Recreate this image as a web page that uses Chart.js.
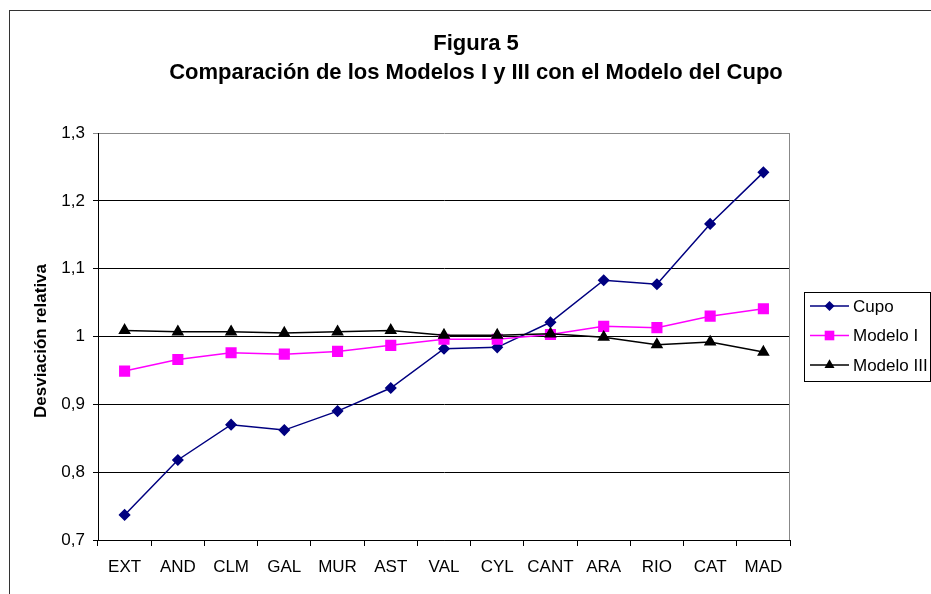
<!DOCTYPE html>
<html lang="es">
<head>
<meta charset="UTF-8">
<title>Figura 5</title>
<script src="https://cdn.jsdelivr.net/npm/chart.js"></script>
<style>
  html, body { margin: 0; padding: 0; background: #fff; }
  #wrap { width: 931px; height: 594px; }
</style>
</head>
<body>
<div id="wrap"><canvas id="fig5" width="931" height="594"></canvas></div>
<script>
// datos
const regiones = ["EXT", "AND", "CLM", "GAL", "MUR", "AST", "VAL", "CYL", "CANT", "ARA", "RIO", "CAT", "MAD"];
const cupo      = [0.737, 0.818, 0.870, 0.862, 0.890, 0.924, 0.982, 0.984, 1.021, 1.083, 1.077, 1.166, 1.242];
const modeloI   = [0.949, 0.966, 0.976, 0.974, 0.978, 0.987, 0.996, 0.996, 1.003, 1.015, 1.013, 1.030, 1.041];
const modeloIII = [1.009, 1.007, 1.007, 1.005, 1.007, 1.009, 1.002, 1.002, 1.004, 0.999, 0.988, 0.992, 0.977];
const nombres   = ["Cupo", "Modelo I", "Modelo III"];

const FONT = "'Liberation Sans', Arial, sans-serif";

function fmt(v) {
    return String(Math.round(v * 10) / 10).replace('.', ',');
}

function marker(ctx, style, x, y, r, color) {
    ctx.save();
    ctx.fillStyle = color;
    ctx.beginPath();
    if (style === 'rectRot') {
        ctx.moveTo(x, y - r); ctx.lineTo(x + r, y); ctx.lineTo(x, y + r); ctx.lineTo(x - r, y);
    } else if (style === 'rect') {
        const s = r * Math.SQRT1_2;
        ctx.rect(x - s, y - s, 2 * s, 2 * s);
    } else {
        ctx.moveTo(x, y - r);
        ctx.lineTo(x + r * 0.866, y + r / 2);
        ctx.lineTo(x - r * 0.866, y + r / 2);
    }
    ctx.closePath();
    ctx.fill();
    ctx.restore();
}

const decor = {
    id: 'decor',
    afterDraw(chart) {
        const ctx = chart.ctx;
        const a = chart.chartArea;
        ctx.save();
        // marco exterior
        ctx.strokeStyle = '#333';
        ctx.lineWidth = 1;
        ctx.strokeRect(9.5, 10.5, 940, 600);
        // borde del area de trazado (derecha)
        ctx.strokeStyle = '#888';
        ctx.beginPath();
        ctx.moveTo(Math.round(a.right) - 0.5, a.top);
        ctx.lineTo(Math.round(a.right) - 0.5, a.bottom);
        ctx.stroke();

        // titulo
        ctx.fillStyle = '#000';
        ctx.textAlign = 'center';
        ctx.textBaseline = 'middle';
        ctx.font = 'bold 22px ' + FONT;
        ctx.fillText('Figura 5', 476, 44);
        ctx.fillText('Comparación de los Modelos I y III con el Modelo del Cupo', 476, 73);

        // titulo eje y
        ctx.save();
        ctx.translate(41, 341);
        ctx.rotate(-Math.PI / 2);
        ctx.font = 'bold 17px ' + FONT;
        ctx.fillText('Desviación relativa', 0, 0);
        ctx.restore();

        // leyenda
        ctx.strokeStyle = '#000';
        ctx.strokeRect(804.5, 292.5, 126, 89);
        ctx.textAlign = 'left';
        ctx.font = '17px ' + FONT;
        chart.data.datasets.forEach((ds, i) => {
            const y = 306 + i * 29.5;
            ctx.strokeStyle = ds.borderColor;
            ctx.lineWidth = 1.5;
            ctx.beginPath();
            ctx.moveTo(810, y);
            ctx.lineTo(849, y);
            ctx.stroke();
            marker(ctx, ds.pointStyle, 829.5, y, ds.pointRadius, ds.backgroundColor);
            ctx.fillStyle = '#000';
            ctx.fillText(ds.label, 853, y + 1);
        });
        ctx.restore();
    }
};

new Chart(document.getElementById('fig5'), {
    type: 'line',
    data: {
        labels: regiones,
        datasets: [
            { label: nombres[0], data: cupo, borderColor: '#000080', backgroundColor: '#000080',
              pointStyle: 'rectRot', pointRadius: 5, borderWidth: 1.5, order: 2 },
            { label: nombres[1], data: modeloI, borderColor: '#FF00FF', backgroundColor: '#FF00FF',
              pointStyle: 'rect', pointRadius: 6.8, borderWidth: 1.5, order: 1 },
            { label: nombres[2], data: modeloIII, borderColor: '#000000', backgroundColor: '#000000',
              pointStyle: 'triangle', pointRadius: 5.8, borderWidth: 1.5, order: 0 }
        ]
    },
    options: {
        responsive: false,
        animation: false,
        layout: { padding: { top: 133, right: 141, bottom: 0, left: 0 } },
        elements: { line: { tension: 0 }, point: { borderWidth: 1 } },
        plugins: {
            legend: { display: false },
            title: { display: false },
            tooltip: { enabled: false }
        },
        scales: {
            x: {
                offset: true,
                grid: { offset: true, drawOnChartArea: false, color: '#000', tickLength: 6 },
                border: { color: '#000', width: 1 },
                ticks: { color: '#000', font: { family: FONT, size: 17 }, padding: 11, maxRotation: 0, autoSkip: false },
                afterFit: s => { s.height = 54; }
            },
            y: {
                min: 0.7,
                max: 1.3,
                ticks: { stepSize: 0.1, color: '#000', font: { family: FONT, size: 17 }, padding: 8,
                         callback: v => fmt(v) },
                grid: { color: c => c.index === 6 ? '#888' : '#000', tickLength: 5 },
                border: { color: '#000', width: 1 },
                afterFit: s => { s.width = 98; }
            }
        }
    },
    plugins: [decor]
});
</script>
</body>
</html>
